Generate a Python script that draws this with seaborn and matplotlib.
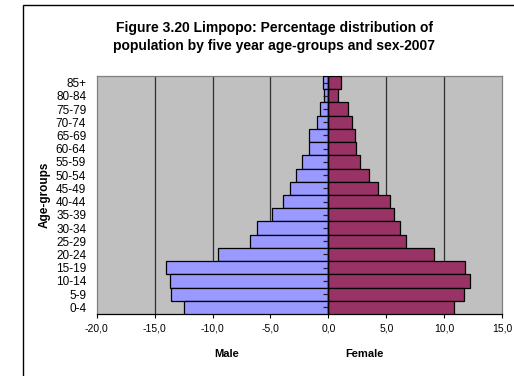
import matplotlib
matplotlib.use("Agg")
import matplotlib.pyplot as plt
from matplotlib.markers import TICKLEFT
from matplotlib.patches import Rectangle
from matplotlib.ticker import FuncFormatter
import seaborn as sns
import pandas as pd

# Five-year age groups, youngest first
age_groups = ["0-4", "5-9", "10-14", "15-19", "20-24", "25-29", "30-34", "35-39",
              "40-44", "45-49", "50-54", "55-59", "60-64", "65-69", "70-74",
              "75-79", "80-84", "85+"]
# Percentage of population (male shown as negative values)
male_pct = [-12.5, -13.6, -13.7, -14.0, -9.5, -6.8, -6.2, -4.9, -3.9, -3.3,
            -2.8, -2.3, -1.7, -1.7, -1.0, -0.75, -0.35, -0.5]
female_pct = [10.8, 11.7, 12.2, 11.8, 9.1, 6.7, 6.2, 5.7, 5.3, 4.3,
              3.5, 2.7, 2.4, 2.3, 2.0, 1.7, 0.8, 1.1]
x_ticks = [-20, -15, -10, -5, 0, 5, 10, 15]

df = pd.DataFrame({"age": age_groups, "Male": male_pct, "Female": female_pct})
order = age_groups[::-1]  # oldest group at the top

sns.set_style("white")
plt.rcParams["font.family"] = ["Liberation Sans", "DejaVu Sans"]
plt.rcParams["text.color"] = "black"
plt.rcParams["axes.labelcolor"] = "black"
plt.rcParams["xtick.color"] = "black"
plt.rcParams["ytick.color"] = "black"

fig = plt.figure(figsize=(5.14, 3.76), dpi=100)
ax = fig.add_axes([0.188, 0.165, 0.789, 0.633])
ax.set_facecolor("#C0C0C0")

sns.barplot(data=df, x="Male", y="age", order=order, orient="h", color="#9999FF",
            width=1.0, edgecolor="black", linewidth=0.9, saturation=1, ax=ax, zorder=3)
sns.barplot(data=df, x="Female", y="age", order=order, orient="h", color="#993366",
            width=1.0, edgecolor="black", linewidth=0.9, saturation=1, ax=ax, zorder=3)

ax.set_xlim(-20, 15)
ax.set_ylim(len(order) - 0.5, -0.5)
ax.set_xticks(x_ticks)
ax.xaxis.set_major_formatter(FuncFormatter(lambda v, p: f"{v:.1f}".replace(".", ",")))
ax.tick_params(axis="x", direction="out", length=3, width=0.8, color="black",
               labelsize=7.5, pad=4, bottom=True)
ax.tick_params(axis="y", length=0, labelsize=8.5, pad=7.5)

# vertical gridlines at every major x tick
for v in x_ticks[1:-1]:
    ax.axvline(v, color="black" if v == 0 else "#303030",
               lw=1.0 if v == 0 else 0.9, zorder=2 if v != 0 else 4)

for side in ["top", "left", "right"]:
    ax.spines[side].set_color("#808080")
    ax.spines[side].set_linewidth(0.9)
ax.spines["bottom"].set_color("black")
ax.spines["bottom"].set_linewidth(0.9)

# category tick marks along the zero line
ax.plot([0] * len(order), range(len(order)), ls="none", marker=TICKLEFT,
        ms=3.5, mew=0.9, color="#202020", zorder=6)

ax.set_xlabel("")
ax.set_ylabel("Age-groups", fontsize=8.5, fontweight="bold", labelpad=4)

fig.text(227 / 514, 1 - 354 / 376, "Male", ha="center", va="center",
         fontsize=8, fontweight="bold")
fig.text(364 / 514, 1 - 354 / 376, "Female", ha="center", va="center",
         fontsize=8, fontweight="bold")

fig.text(274 / 514, 1 - 37 / 376,
         "Figure 3.20 Limpopo: Percentage distribution of\n"
         "population by five year age-groups and sex-2007",
         ha="center", va="center", fontsize=10, fontweight="bold", linespacing=1.45)

# chart frame
fig.patches.append(Rectangle((22.5 / 514, -0.1), 1.2, 1 - 5 / 376 + 0.1,
                             transform=fig.transFigure, fill=False,
                             edgecolor="black", lw=1.0, zorder=0))

fig.savefig("out.png", dpi=100, facecolor="white")
